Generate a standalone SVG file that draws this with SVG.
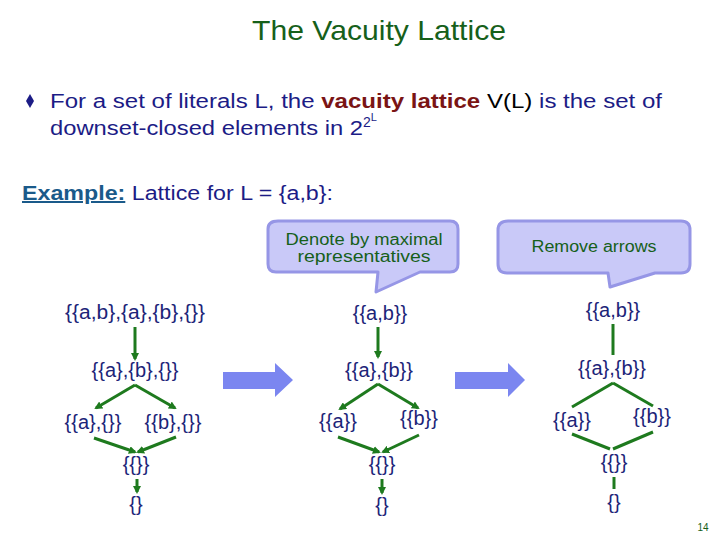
<svg xmlns="http://www.w3.org/2000/svg" width="720" height="540" viewBox="0 0 720 540">
<style>
.t{font-family:"Liberation Sans","DejaVu Sans",sans-serif;}
.title{font-size:28px;fill:#16601a;}
.body{font-size:20px;fill:#1c1c86;}
.node{font-size:20px;fill:#1c2478;text-anchor:middle;}
.call{font-size:16px;fill:#16601a;text-anchor:middle;}
.bubble{fill:#c9c9f8;stroke:#9696e6;stroke-width:3;stroke-linejoin:round;}
.edge{stroke:#1e7a1e;stroke-width:3;fill:none;}
.big{fill:#7b86f0;}
</style>
<defs>
<marker id="ah" markerWidth="8" markerHeight="8" refX="6" refY="4" orient="auto" markerUnits="userSpaceOnUse" viewBox="0 0 8 8">
<path d="M0,0 L8,4 L0,8 z" fill="#1e7a1e"/>
</marker>
</defs>

<text class="t title" x="379" y="40" text-anchor="middle" textLength="254" lengthAdjust="spacingAndGlyphs">The Vacuity Lattice</text>

<g id="bullet">
<path d="M30,94 L34,101 L30,108 L26,101 z" fill="#1c1c86"/>
<text class="t body" x="50" y="108" textLength="612" lengthAdjust="spacingAndGlyphs">For a set of literals L, the <tspan fill="#7a1414" font-weight="bold">vacuity lattice</tspan> <tspan fill="#000">V(L)</tspan> is the set of</text>
<text class="t body" x="50" y="135"><tspan textLength="313" lengthAdjust="spacingAndGlyphs">downset-closed elements in 2</tspan><tspan font-size="14" dy="-8">2</tspan><tspan font-size="11" dy="-6">L</tspan></text>
</g>

<g id="example">
<text class="t body" x="22" y="200" textLength="311" lengthAdjust="spacingAndGlyphs"><tspan fill="#1a5a8a" font-weight="bold" text-decoration="underline">Example:</tspan> Lattice for L = {a,b}:</text>
</g>

<g id="callout1">
<path class="bubble" d="M278,221 H450 Q458,221 458,229 V264 Q458,272 450,272 H420 L376,292 L378,272 H276 Q268,272 268,264 V229 Q268,221 278,221 z"/>
<text class="t call" x="364" y="245" textLength="157" lengthAdjust="spacingAndGlyphs">Denote by maximal</text>
<text class="t call" x="364" y="262" textLength="133" lengthAdjust="spacingAndGlyphs">representatives</text>
</g>

<g id="callout2">
<path class="bubble" d="M508,221 H681 Q690,221 690,230 V264 Q690,273 681,273 H655 L610,287 L608,273 H507 Q498,273 498,264 V230 Q498,221 508,221 z"/>
<text class="t call" x="594" y="252" textLength="125" lengthAdjust="spacingAndGlyphs">Remove arrows</text>
</g>

<g id="bigarrow1"><path class="big" d="M223,372 H275 V363 L293,380 L275,397 V389 H223 z"/></g>
<g id="bigarrow2"><path class="big" d="M455,372 H508 V363 L525,380 L508,397 V389 H455 z"/></g>

<g id="col1">
<g id="c1n1"><text class="t node" x="135" y="319" textLength="140" lengthAdjust="spacingAndGlyphs">{{a,b},{a},{b},{}}</text></g>
<g id="c1n2"><text class="t node" x="135" y="377">{{a},{b},{}}</text></g>
<g id="c1n3"><text class="t node" x="93" y="429">{{a},{}}</text></g>
<g id="c1n4"><text class="t node" x="173" y="429">{{b},{}}</text></g>
<g id="c1n5"><text class="t node" x="136" y="471">{{}}</text></g>
<g id="c1n6"><text class="t node" x="136" y="511">{}</text></g>
</g>

<g id="col2">
<g id="c2n1"><text class="t node" x="380" y="320">{{a,b}}</text></g>
<g id="c2n2"><text class="t node" x="379" y="377">{{a},{b}}</text></g>
<g id="c2n3"><text class="t node" x="338" y="428">{{a}}</text></g>
<g id="c2n4"><text class="t node" x="419" y="425">{{b}}</text></g>
<g id="c2n5"><text class="t node" x="382" y="471">{{}}</text></g>
<g id="c2n6"><text class="t node" x="382" y="512">{}</text></g>
</g>

<g id="col3">
<g id="c3n1"><text class="t node" x="613" y="317">{{a,b}}</text></g>
<g id="c3n2"><text class="t node" x="612" y="375">{{a},{b}}</text></g>
<g id="c3n3"><text class="t node" x="572" y="427">{{a}}</text></g>
<g id="c3n4"><text class="t node" x="652" y="423">{{b}}</text></g>
<g id="c3n5"><text class="t node" x="614" y="469">{{}}</text></g>
<g id="c3n6"><text class="t node" x="614" y="509">{}</text></g>
</g>

<g id="connectors">
<line class="edge" x1="135" y1="327" x2="135" y2="359" marker-end="url(#ah)"/>
<line class="edge" x1="135" y1="385" x2="96" y2="408" marker-end="url(#ah)"/>
<line class="edge" x1="135" y1="385" x2="175" y2="408" marker-end="url(#ah)"/>
<line class="edge" x1="94" y1="438" x2="135" y2="452" marker-end="url(#ah)"/>
<line class="edge" x1="176" y1="437" x2="138" y2="452" marker-end="url(#ah)"/>
<line class="edge" x1="137" y1="479" x2="137" y2="492" marker-end="url(#ah)"/>

<line class="edge" x1="378" y1="327" x2="378" y2="357" marker-end="url(#ah)"/>
<line class="edge" x1="378" y1="384" x2="340" y2="409" marker-end="url(#ah)"/>
<line class="edge" x1="378" y1="384" x2="418" y2="408" marker-end="url(#ah)"/>
<line class="edge" x1="338" y1="437" x2="379" y2="452" marker-end="url(#ah)"/>
<line class="edge" x1="419" y1="435" x2="383" y2="452" marker-end="url(#ah)"/>
<line class="edge" x1="382" y1="479" x2="382" y2="493" marker-end="url(#ah)"/>

<line class="edge" x1="613" y1="324" x2="613" y2="355"/>
<line class="edge" x1="613" y1="383" x2="572" y2="407"/>
<line class="edge" x1="613" y1="383" x2="653" y2="406"/>
<line class="edge" x1="572" y1="434" x2="610" y2="449"/>
<line class="edge" x1="653" y1="432" x2="613" y2="449"/>
<line class="edge" x1="614" y1="477" x2="614" y2="489"/>
</g>

<text class="t" x="703" y="531" font-size="10" fill="#16601a" text-anchor="middle">14</text>
</svg>
